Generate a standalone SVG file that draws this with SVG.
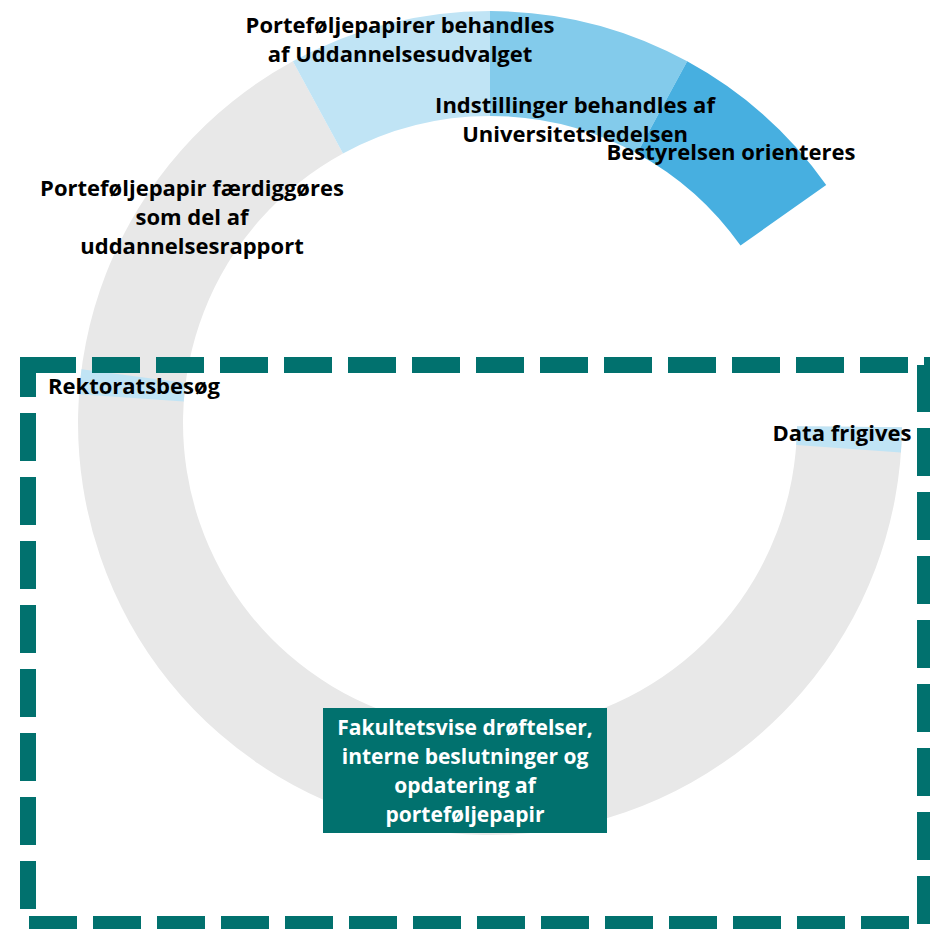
<svg xmlns="http://www.w3.org/2000/svg" width="930" height="929" viewBox="0 0 930 929">
<style>
text{font-family:"Open Sans","Liberation Sans",sans-serif;font-weight:700;text-anchor:middle}
.lbl{font-size:22px;fill:#000}
.box{font-size:21px;fill:#fff}
.s0{fill:#E8E8E8}
.s1{fill:#C0E4F5}
.s2{fill:#83CBEB}
.s3{fill:#47AFE0}
</style>
<rect width="930" height="929" fill="#fff"/>
<g id="ring">
<path class="s0" d="M902.0,427.3 A412,412 0 1 1 292.8,61.3 L343.0,153.5 A307,307 0 1 0 797.0,426.2 Z"/>
</g>
<g id="seg-uddannelsesudvalget"><path class="s1" d="M292.8,61.3 A412,412 0 0 1 490,11 L490,116 A307,307 0 0 0 343.0,153.5 Z"/></g>
<g id="seg-universitetsledelsen"><path class="s2" d="M490,11 A412,412 0 0 1 687.2,61.3 L637.0,153.5 A307,307 0 0 0 490,116 Z"/></g>
<g id="seg-bestyrelsen"><path class="s3" d="M687.2,61.3 A412,412 0 0 1 826.2,184.9 L740.5,245.6 A307,307 0 0 0 637.0,153.5 Z"/></g>
<g id="seg-data"><path class="s1" d="M902.0,427.3 A412,412 0 0 1 900.9,452.5 L796.2,445.0 A307,307 0 0 0 797.0,426.2 Z"/></g>
<g id="seg-rektorat"><path class="s1" d="M79.0,394.3 A412,412 0 0 1 81.5,369.2 L185.6,382.9 A307,307 0 0 0 183.7,401.6 Z"/></g>
<g id="frame">
<rect x="28" y="365" width="897" height="559" fill="none" stroke="#01716E" stroke-width="16" stroke-dasharray="48 16"/>
</g>
<g id="label-uddannelsesudvalget">
<text class="lbl" x="400" y="33">Porteføljepapirer behandles</text>
<text class="lbl" x="400" y="62">af Uddannelsesudvalget</text>
</g>
<g id="label-universitetsledelsen">
<text class="lbl" x="575" y="113">Indstillinger behandles af</text>
<text class="lbl" x="575" y="142">Universitetsledelsen</text>
</g>
<g id="label-bestyrelsen">
<text class="lbl" x="731" y="160">Bestyrelsen orienteres</text>
</g>
<g id="label-uddannelsesrapport">
<text class="lbl" x="192" y="196">Porteføljepapir færdiggøres</text>
<text class="lbl" x="192" y="225">som del af</text>
<text class="lbl" x="192" y="254">uddannelsesrapport</text>
</g>
<g id="label-rektorat">
<text class="lbl" x="134" y="394">Rektoratsbesøg</text>
</g>
<g id="label-data">
<text class="lbl" x="842" y="441">Data frigives</text>
</g>
<g id="node-fakultet">
<rect x="323" y="708" width="284" height="125" fill="#01716E"/>
<text class="box" x="465" y="735">Fakultetsvise drøftelser,</text>
<text class="box" x="465" y="764">interne beslutninger og</text>
<text class="box" x="465" y="793">opdatering af</text>
<text class="box" x="465" y="822">porteføljepapir</text>
</g>
</svg>
